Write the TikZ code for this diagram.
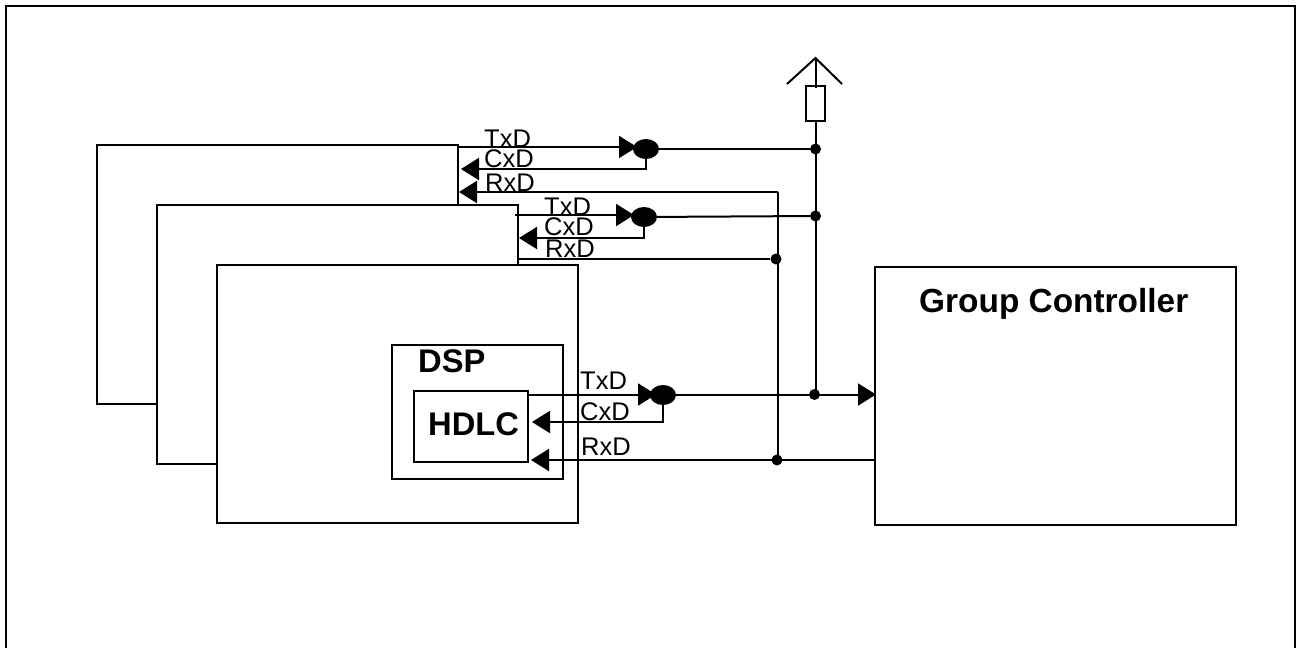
\documentclass[tikz,border=0pt]{standalone}
\usepackage{fontspec}
\setmainfont{Liberation Sans}
\usetikzlibrary{arrows.meta,shapes.geometric}
\tikzset{
  wire/.style={line width=2pt,line cap=butt,line join=miter},
  arrowwire/.style={wire,-{Triangle[length=18pt,width=22pt]}},
  dotnode/.style={circle,fill=black,inner sep=0pt,minimum size=11pt},
  junction/.style={ellipse,fill=black,inner sep=0pt,minimum width=26pt,minimum height=20pt},
  boxnode/.style={draw,line width=2pt,inner sep=0pt,outer sep=0pt,anchor=north west},
  siglabel/.style={font=\fontsize{25.5}{25.5}\selectfont,anchor=base west,inner sep=0pt},
  titlelabel/.style={font=\fontsize{32.7}{32.7}\selectfont\bfseries,anchor=base west,inner sep=0pt}
}
\begin{document}
\begin{tikzpicture}[x=1pt,y=-1pt]
\useasboundingbox (0,0) rectangle (1296,648);
\fill[white] (0,0) rectangle (1296,648);
% outer frame
\coordinate (fa) at (6,648); \coordinate (fb) at (6,6); \coordinate (fc) at (1295,6); \coordinate (fd) at (1295,648);
\draw[wire,line width=2pt] (fa) -- (fb) -- (fc) -- (fd);
% stacked cards
\coordinate (c1a) at (157,404); \coordinate (c1b) at (97,404); \coordinate (c1c) at (97,145); \coordinate (c1d) at (458,145); \coordinate (c1e) at (458,205);
\draw[wire] (c1a) -- (c1b) -- (c1c) -- (c1d) -- (c1e);
\coordinate (c2a) at (217,464); \coordinate (c2b) at (157,464); \coordinate (c2c) at (157,205); \coordinate (c2d) at (518,205); \coordinate (c2e) at (518,265);
\draw[wire] (c2a) -- (c2b) -- (c2c) -- (c2d) -- (c2e);
\node[boxnode,minimum width=361pt,minimum height=258pt] (card) at (217,265) {};
\node[boxnode,minimum width=171pt,minimum height=134pt] (dsp) at (392,345) {};
\node[boxnode,minimum width=114pt,minimum height=71pt] (hdlc) at (414,391) {};
\node[boxnode,minimum width=361pt,minimum height=258pt] (gc) at (875,267) {};
% titles
\node[titlelabel] (dsplabel) at (418,372) {DSP};
\node[titlelabel] (hdlclabel) at (428,435) {HDLC};
\node[titlelabel,font=\fontsize{33.4}{33.4}\selectfont\bfseries] (gclabel) at (919,312) {Group Controller};
% junction points
\node[junction] (j1) at (646,149) {};
\node[junction] (j2) at (644,217) {};
\node[junction] (j3) at (663,395) {};
\node[dotnode] (d1) at (815.5,149) {};
\node[dotnode] (d2) at (815.5,216) {};
\node[dotnode] (d3) at (814.5,394.5) {};
\node[dotnode] (d4) at (776,259) {};
\node[dotnode] (d5) at (777,460) {};
% antenna
\node[draw,line width=2pt,inner sep=0pt,outer sep=0pt,minimum width=19pt,minimum height=35pt] (res) at (815.5,103.5) {};
\coordinate (apex) at (815.5,58); \coordinate (al) at (787,84); \coordinate (ar) at (842,84);
\draw[wire] (al) -- (apex) -- (ar);
\draw[wire] (apex) -- (815.5,88);
\draw[wire] (res.south) -- (res.south |- d3);
% top card
\coordinate (t1s) at (458,147); \coordinate (t1e) at (637,147);
\draw[arrowwire] (t1s) -- (t1e);
\draw[wire] (j1) -- (d1);
\coordinate (x1e) at (461,169);
\draw[arrowwire] (j1.center) |- (x1e);
\coordinate (r1e) at (459,192); \coordinate (r1c) at (778,192);
\draw[arrowwire] (r1c) -- (r1e);
% second card
\coordinate (t2s) at (515,215); \coordinate (t2e) at (634,215);
\draw[arrowwire] (t2s) -- (t2e);
\draw[wire] (j2) -- (d2);
\coordinate (x2e) at (519,238);
\draw[arrowwire] (j2.center) |- (x2e);
\coordinate (r2s) at (518,259);
\draw[wire] (r2s) -- (d4);
% third card
\coordinate (t3s) at (527,394.5); \coordinate (t3e) at (656,394.5);
\draw[arrowwire] (t3s) -- (t3e);
\coordinate (gcin) at (876,394.5);
\draw[arrowwire] (j3.center |- t3s) -- (gcin);
\coordinate (x3e) at (532,422);
\draw[arrowwire] (j3.center) |- (x3e);
\coordinate (gcout) at (875,460); \coordinate (r3e) at (531,460);
\draw[arrowwire] (gcout) -- (r3e);
\draw[wire] (r1c) -- (r1c |- d5);
% signal labels
\node[siglabel] (l1) at (484,147) {TxD};
\node[siglabel] (l2) at (484,167) {CxD};
\node[siglabel] (l3) at (485,191) {RxD};
\node[siglabel] (l4) at (544,215) {TxD};
\node[siglabel] (l5) at (544,235) {CxD};
\node[siglabel] (l6) at (545,257) {RxD};
\node[siglabel] (l7) at (580,389) {TxD};
\node[siglabel] (l8) at (580,420) {CxD};
\node[siglabel] (l9) at (581,455) {RxD};
\end{tikzpicture}
\end{document}
